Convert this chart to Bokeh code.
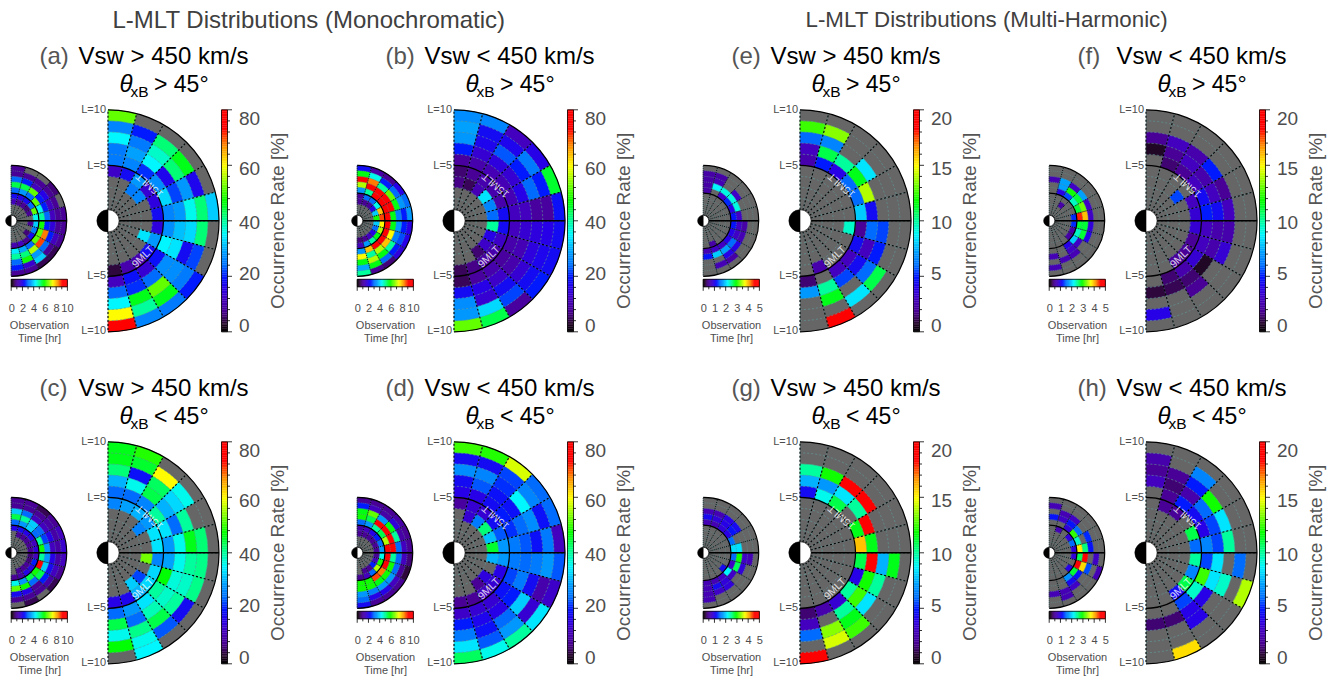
import numpy as np
from bokeh.plotting import figure
from bokeh.models import ColumnDataSource, LinearColorMapper
from bokeh.transform import transform
from bokeh.core.properties import value
from bokeh.embed import file_html
from bokeh.resources import INLINE

_ = None
# each list = one 15-degree MLT sector (18 MLT at top -> 6 MLT at bottom), values for L rings 9-10,8-9,...,3-4
a_main = [[52,26,35,25,25,13,_],[_,20,25,29,26,18,_],[_,42,38,35,21,28,25],[_,46,42,17,27,14,26],
          [_,17,28,22,33,15,_],[32,42,36,28,26,18,_],[_,42,33,31,27,15,_],[_,22,18,34,35,28,34],
          [20,25,27,27,19,18,_],[25,46,52,24,14,10,_],[26,40,46,21,19,10,_],[76,60,35,24,12,4,_]]
b_main = [[27,29,28,20,9,6,7],[26,18,17,14,10,8,5],[12,17,23,15,11,10,11],[16,25,20,14,11,10,34],
          [45,20,24,16,11,10,26],[19,9,9,12,12,18,24],[18,16,15,14,12,18,40],[18,17,15,11,10,13,16],
          [20,18,14,10,9,10,13],[9,22,18,13,10,9,6],[44,33,14,16,9,7,_],[52,28,27,18,5,5,_]]
c_main = [[46,46,42,30,24,26,_],[49,45,19,36,24,29,_],[_,60,43,44,26,30,_],[_,36,33,30,40,28,26],
          [_,_,40,24,34,34,_],[_,42,46,36,28,34,_],[_,41,40,36,29,26,53],[_,41,38,37,47,33,_],
          [_,18,40,38,40,33,22],[_,23,44,39,34,30,32],[35,36,41,24,28,17,_],[_,47,36,44,24,16,_]]
d_main = [[50,18,27,18,16,9,_],[49,18,26,23,16,14,14],[58,22,21,19,18,14,25],[24,26,35,19,20,18,42],
          [24,19,27,24,21,23,31],[12,25,19,23,25,28,45],[23,28,25,24,25,28,30],[13,10,18,25,22,16,_],
          [34,14,32,20,19,14,15],[40,28,24,16,14,12,8],[36,23,19,17,14,8,_],[43,34,25,20,13,8,_]]
e_main = [[_,12.5,6,3,2.5,_,_],[_,13.5,6.5,11,5,_,_],[_,_,_,10,4,_,_],[_,_,8.5,11.5,6,_,_],
          [_,_,_,14,6,_,_],[_,_,_,4.5,8,_,_],[_,_,5.5,6,2,9.5,_],[_,_,5,3,4.5,_,_],
          [_,11,6,4.5,3,_,_],[_,8.5,_,5.5,3,_,_],[19.5,_,11.5,10,_,2.5,_],[_,_,_,7,1.5,_,_]]
f_main = [[_,_,2,0.7,_,_,_],[_,_,3,2,1.5,_,_],[_,_,2.5,3,2,_,_],[_,_,5,2.5,3,_,5.5],
          [_,_,2,3,4.5,3,_],[_,_,3,4.5,5,3.5,_],[_,_,2.5,2.5,3,3.5,_],[_,_,3.5,2.5,3,2,_],
          [_,_,_,0.7,3.5,2,_],[_,_,2,1.5,2.5,2,_],[_,_,_,1.2,1.5,_,_],[_,4,_,1,_,_,_]]
g_main = [[_,_,10,7.5,4.5,_,_],[_,_,12,7,9,_,_],[_,_,19,8.5,11,_,_],[_,_,19.5,10,_,_,_],
          [_,_,_,19,11.5,_,_],[_,_,_,11.5,16,_,_],[_,11.5,7.5,19,11,_,_],[_,_,10,12,4,_,_],
          [_,_,8.5,12.5,10,_,_],[_,12.5,11.5,10,3.5,_,_],[_,14.5,13.5,_,2.5,_,_],[19.5,_,6,3,1.5,_,_]]
h_main = [[_,2.5,2,3,_,_,_],[_,_,2,1.5,2,2,_],[_,6.5,5,2.5,5,2,_],[_,_,12,6,4.5,_,_],
          [_,_,8.5,5.5,4,11,_],[_,_,10,5.5,6.5,6,_],[_,6,_,8.5,5.5,10,_],[14,_,9.5,8.5,12.5,6.5,_],
          [_,_,_,4,9.5,11,_],[_,_,4,4,5.5,4.5,_],[15.5,_,_,1.5,_,_,_],[_,_,_,1.5,_,_,_]]

a_side = [[1,1,3,5.5,3,2.2,1.5],[_,1,2.5,5.5,3.5,2,1],[_,1,1.5,6.5,3,2.2,1],[0.8,1,2,2.5,6.5,3,0.8],
          [_,1,1.5,2.5,4.5,6.5,1],[1,1,1.5,3,5,4.5,_],[1,1,1.8,2.5,6,4,1],[1,1.5,2.5,8.5,6.5,3.2,_],
          [0.6,1,3,8.8,6.5,2.2,0.8],[0.6,4,3.5,7,3,1,_],[1,1.7,6,5.2,3.7,1.5,_],[1,2.5,3,5,4.3,1.3,_]]
b_side = [[2.3,5.8,9.5,7,3.5,1,1],[1.2,4.5,8.5,9.5,5,3,1],[1,2.5,5,9.5,9.5,3,1],[2,3,6.5,9.5,9.8,4.5,2],
          [3,3.5,5.8,9.5,9.5,8,4],[3.5,2.5,3.2,5.8,9.5,8.8,6],[2,2.5,3.5,5.8,9.5,7.5,4],[2,2.8,3.2,7.5,9.5,7,3],
          [1.8,2.5,5,8,9.5,5.8,2],[0.8,3,5.8,7,9.5,5,1.5],[1,5.8,7,5,8,3.5,1],[5,3.7,5.8,7.5,3.5,1.5,0.8]]
c_side = [[1,1,4,5.5,3,2,_],[1,1,3,5,3.5,2.2,1],[0.6,1,1.5,4,4,2,1],[1,1.2,1.5,3,3,2,1],
          [1.5,1.2,2,2.7,5,1.5,1],[1.7,1.2,1.5,3.5,6,1.8,1],[1.5,1.2,2,3.5,5,1.5,0.8],[1,1.5,2.2,4,9.5,2.5,0.8],
          [0.6,1.2,2.5,5.5,6,2,1],[_,1,1,3,5.5,2,1],[0.6,1,2,6,3.5,1.2,1],[_,1,2.2,6.5,4.5,1,_]]
d_side = [[1,2.5,5.8,6,3,1.2,1],[1,1.5,6.5,5.5,3.5,1.5,1],[1,1.2,3.5,9.5,5,2,1],[1.2,1.8,5.8,9.5,5.5,2.5,1],
          [1,1.2,5,9.5,7,3,1],[1,1.5,3,9.5,9.5,3.5,1],[0.8,1.5,3,5,9.5,4.5,1],[0.5,1,3,6,9.5,6,1.5],
          [1,1.5,3.5,6,8.5,7,2.5],[1,2,3.5,5.8,8.8,3,1],[1,2,3.2,6,6,1.5,1],[2.2,3,3.5,6,6,1,_]]
e_side = [[_,0.6,0.6,0.6,0.6,_,_],[_,0.6,0.7,2.2,_,_,_],[_,_,_,2.3,0.8,_,_],[_,_,0.8,2.3,1.3,_,_],
          [_,_,_,2.3,1,_,_],[_,_,_,0.8,1.2,_,_],[_,_,0.6,0.8,1.2,_,_],[_,_,0.7,0.8,1,_,_],
          [_,_,1,1.5,1,_,_],[_,0.6,1,1.8,0.8,_,_],[_,0.7,_,2,0.8,0.6,_],[_,_,_,1.2,0.7,_,_]]
f_side = [[_,_,0.7,_,_,_,_],[_,_,1.8,1.8,1,_,_],[_,_,0.8,3,1.4,_,0.6],[_,_,1.8,2.8,2.4,_,_],
          [_,_,0.8,3.3,2.8,_,_],[_,_,0.8,4,4.5,1.3,_],[_,_,0.9,2.8,2.8,1.3,_],[_,_,1,2.8,2.4,0.6,_],
          [_,_,_,0.8,2,0.6,_],[_,_,0.7,0.8,1,_,_],[_,_,0.7,_,_,_,_],[_,0.7,_,0.7,_,_,_]]
g_side = [[_,_,0.7,1.1,0.7,_,_],[_,_,0.7,0.9,0.7,_,_],[_,_,1,1,0.9,_,_],[_,_,1.1,1.2,1,_,_],
          [_,_,_,_,1.5,_,_],[_,_,_,2.1,2.1,_,_],[_,0.7,0.8,3,1.5,_,_],[_,_,0.9,2.7,0.8,_,_],
          [_,_,_,0.8,2.2,1.1,_],[_,_,0.9,0.9,0.8,_,_],[_,_,0.8,1.1,0.7,_,_],[_,0.7,0.7,0.7,0.7,_,_]]
h_side = [[_,0.7,_,1.2,_,_,_],[_,_,0.7,0.8,_,0.7,_],[_,_,0.8,1.2,0.9,_,_],[_,_,_,1.5,3.1,0.9,_],
          [_,_,1.3,_,2.4,1.5,_],[_,_,1.2,2.6,3.8,0.9,_],[_,0.8,_,4.6,2.7,0.9,_],[0.7,_,1.4,3.9,4.6,_,_],
          [_,_,_,1.2,2.8,1,_],[_,_,0.8,1.1,1.7,_,_],[_,0.7,0.7,_,_,_,_],[_,_,0.7,_,_,_,_]]

rings_inner = [9, 8, 7, 6, 5, 4, 3]
mono_ticks = [0, 20, 40, 60, 80]
multi_ticks = [0, 5, 10, 15, 20]
mono_time = [0, 2, 4, 6, 8, 10]
multi_time = [0, 1, 2, 3, 4, 5]
titles = ["L-MLT Distributions (Monochromatic)", "L-MLT Distributions (Multi-Harmonic)"]
# tag, Vsw text, theta text, main, side, cx, cy
panels = [("(a)", "Vsw > 450 km/s", "> 45°", a_main, a_side, 107.5, 220.3, mono_ticks, mono_time),
          ("(b)", "Vsw < 450 km/s", "> 45°", b_main, b_side, 453.5, 220.3, mono_ticks, mono_time),
          ("(c)", "Vsw > 450 km/s", "< 45°", c_main, c_side, 107.5, 552.3, mono_ticks, mono_time),
          ("(d)", "Vsw < 450 km/s", "< 45°", d_main, d_side, 453.5, 552.3, mono_ticks, mono_time),
          ("(e)", "Vsw > 450 km/s", "> 45°", e_main, e_side, 799.5, 220.3, multi_ticks, multi_time),
          ("(f)", "Vsw < 450 km/s", "> 45°", f_main, f_side, 1145.5, 220.3, multi_ticks, multi_time),
          ("(g)", "Vsw > 450 km/s", "< 45°", g_main, g_side, 799.5, 552.3, multi_ticks, multi_time),
          ("(h)", "Vsw < 450 km/s", "< 45°", h_main, h_side, 1145.5, 552.3, multi_ticks, multi_time)]

W, H = 1335, 678
GREY, TEAL, FONT = "#666666", "#5f9ea0", value("Liberation Sans")
anchors = [(0, "#000000"), (.04, "#2a0a30"), (.09, "#4a0090"), (.15, "#4400c0"), (.20, "#2800e8"), (.25, "#0018ff"), (.30, "#0070ff"), (.36, "#00a0ff"),
           (.44, "#00f8ff"), (.51, "#00ff90"), (.59, "#00ff00"), (.68, "#90ff00"), (.75, "#ffff00"), (.84, "#ff9000"),
           (.92, "#ff0000"), (1, "#ff0000")]
fr = [a[0] for a in anchors]
rgb = np.array([[int(a[1][i:i+2], 16) for i in (1, 3, 5)] for a in anchors])
palette = ["#%02x%02x%02x" % tuple(int(np.interp(t, fr, rgb[:, c])) for c in range(3)) for t in np.linspace(0, 1, 256)]
mappers = {m: LinearColorMapper(palette=palette, low=0, high=m) for m in (80, 20, 10, 5)}

p = figure(width=W, height=H, x_range=(0, W), y_range=(0, H), output_backend="svg", toolbar_location=None,
           min_border=0, outline_line_color=None, background_fill_color="white", border_fill_color="white")
p.axis.visible = False
p.grid.visible = False
p.margin = (0, 0, 0, 0)
Y = lambda y: H - y

def txt(x, y, s, size, color="#4d4d4d", align="left", angle=0, style="normal", alpha=1.0):
    p.text([x], [Y(y)], text=[s], text_font=FONT, text_font_size=f"{size}px", text_color=color, text_align=align,
           text_baseline="middle", angle=angle, angle_units="deg", text_font_style=style, text_alpha=alpha)

def polar(cols, cx, cy, unit, mapper, lw, dash):
    ycen = Y(cy)
    R = 10 * unit
    p.wedge([cx], [ycen], radius=R, start_angle=-90, end_angle=90, start_angle_units="deg", end_angle_units="deg",
            fill_color=GREY, line_color=None)
    xs, ins, outs, st, en, vs = [], [], [], [], [], []
    for k, col in enumerate(cols):
        for L, v in zip(rings_inner, col):
            if v is None:
                continue
            xs.append(cx); ins.append(L * unit); outs.append((L + 1) * unit)
            st.append(90 - 15 * (k + 1)); en.append(90 - 15 * k); vs.append(v)
    src = ColumnDataSource(dict(x=xs, y=[ycen] * len(xs), i=ins, o=outs, s=st, e=en, v=vs))
    p.annular_wedge("x", "y", "i", "o", "s", "e", start_angle_units="deg", end_angle_units="deg", source=src,
                    fill_color=transform("v", mapper), line_color=transform("v", mapper), line_width=0.4)
    for L in range(2, 10):
        if L != 5:
            p.arc([cx], [ycen], radius=L * unit, start_angle=-90, end_angle=90, start_angle_units="deg",
                  end_angle_units="deg", line_color=TEAL, line_dash=dash, line_width=lw, line_alpha=0.7)
    ang = np.radians(np.arange(-90, 91, 15))
    sx = [[cx + unit * np.cos(a), cx + R * np.cos(a)] for a in ang]
    sy = [[ycen + unit * np.sin(a), ycen + R * np.sin(a)] for a in ang]
    p.multi_line(sx, sy, line_color=TEAL, line_width=lw, line_alpha=0.4)
    p.multi_line(sx, sy, line_color="black", line_width=lw + 0.2, line_dash=dash)
    for L in (5, 10):
        p.arc([cx], [ycen], radius=L * unit, start_angle=-90, end_angle=90, start_angle_units="deg",
              end_angle_units="deg", line_color="black", line_width=1.2)
    p.segment([cx + unit], [ycen], [cx + R], [ycen], line_color="black", line_width=1.4)
    p.wedge([cx], [ycen], radius=unit, start_angle=90, end_angle=270, start_angle_units="deg", end_angle_units="deg",
            fill_color="black", line_color="black", line_width=0.6)
    p.wedge([cx], [ycen], radius=unit, start_angle=-90, end_angle=90, start_angle_units="deg", end_angle_units="deg",
            fill_color="white", line_color="black", line_width=0.6)

def vbar_scale(x0, top, bot, wid, hi, mapper, ticks):
    lv = np.linspace(0, hi, 129)
    f = lambda v: bot - (bot - top) * v / hi
    src = ColumnDataSource(dict(l=[x0] * 128, r=[x0 + wid] * 128, t=[Y(f(b)) for b in lv[1:]], b=[Y(f(a)) for a in lv[:-1]],
                                v=list((lv[1:] + lv[:-1]) / 2)))
    p.quad(left="l", right="r", top="t", bottom="b", source=src, fill_color=transform("v", mapper),
           line_color=transform("v", mapper), line_width=0.3)
    p.quad([x0], [x0 + wid], [Y(top)], [Y(bot)], fill_color=None, line_color="black", line_width=0.8)
    tv = np.linspace(0, hi, 21)
    lens = [4.5 if i % 5 == 0 else 2.5 for i in range(21)]
    p.segment([x0 + wid] * 21, [Y(f(t)) for t in tv], [x0 + wid + l for l in lens], [Y(f(t)) for t in tv],
              line_color="black", line_width=0.8)
    shift = [6, 2.5, -2, -3.5, -9]
    for i, t in enumerate(ticks):
        txt(x0 + wid + 11.5, f(t) - shift[i], str(t), 19)

def hbar_scale(x0, x1, top, bot, hi, mapper, ticks):
    lv = np.linspace(0, hi, 129)
    f = lambda v: x0 + (x1 - x0) * v / hi
    src = ColumnDataSource(dict(l=[f(a) for a in lv[:-1]], r=[f(b) for b in lv[1:]], t=[Y(top)] * 128, b=[Y(bot)] * 128,
                                v=list((lv[1:] + lv[:-1]) / 2)))
    p.quad(left="l", right="r", top="t", bottom="b", source=src, fill_color=transform("v", mapper),
           line_color=transform("v", mapper), line_width=0.3)
    p.quad([x0], [x1], [Y(top)], [Y(bot)], fill_color=None, line_color="black", line_width=0.8)
    n = 10
    tv = np.linspace(0, hi, n + 1)
    lens = [4 if i % 2 == 0 else 2.5 for i in range(n + 1)]
    p.segment([f(t) for t in tv], [Y(bot)] * (n + 1), [f(t) for t in tv], [Y(bot + l) for l in lens],
              line_color="black", line_width=0.8)
    for t in ticks:
        txt(f(t) + (0.5 if t != hi or hi == 5 else 0), bot + 21, str(t), 11, align="center")

txt(112, 19, titles[0], 24, color="#404040")
txt(805, 19, titles[1], 22.3, color="#404040")

for tag, vsw, th, main, side, cx, cy, ticks, times in panels:
    hi = ticks[-1]
    polar(main, cx, cy, 11.1, mappers[hi], 0.9, "2 2")
    polar(side, cx - 96.8, cy, 5.55, mappers[times[-1]], 0.7, "1 1")
    vbar_scale(cx + 113.5, cy - 111, cy + 111, 6, hi, mappers[hi], ticks)
    hbar_scale(cx - 96.8, cx - 40.6, cy + 58.5, cy + 66, times[-1], mappers[times[-1]], times)
    txt(cx - 68.5, cy - 165, tag, 24, color="#555555")
    txt(cx - 29.5, cy - 165, vsw, 24, color="black")
    txt(cx + 11.5, cy - 137, "θ", 24, color="black", style="italic")
    txt(cx + 22.5, cy - 129, "xB", 15.5, color="black")
    txt(cx + 46, cy - 137, th, 23, color="black")
    txt(cx + 169.5, cy, "Occurrence Rate [%]", 19, color="#555555", align="center", angle=90)
    for lab, dy in (("L=10", -112), ("L=5", -56), ("L=5", 54), ("L=10", 109)):
        txt(cx - 2, cy + dy, lab, 11, align="right")
    txt(cx + 41, cy - 35, "15MLT", 10.5, color="#ffffff", align="center", angle=139, alpha=0.8)
    txt(cx + 34.5, cy + 35.5, "9MLT", 10.5, color="#ffffff", align="center", angle=44, alpha=0.8)
    txt(cx - 68.5, cy + 104, "Observation", 11, align="center")
    txt(cx - 68.5, cy + 117, "Time [hr]", 11, align="center")

open("out.html", "w").write(file_html(p, INLINE))
